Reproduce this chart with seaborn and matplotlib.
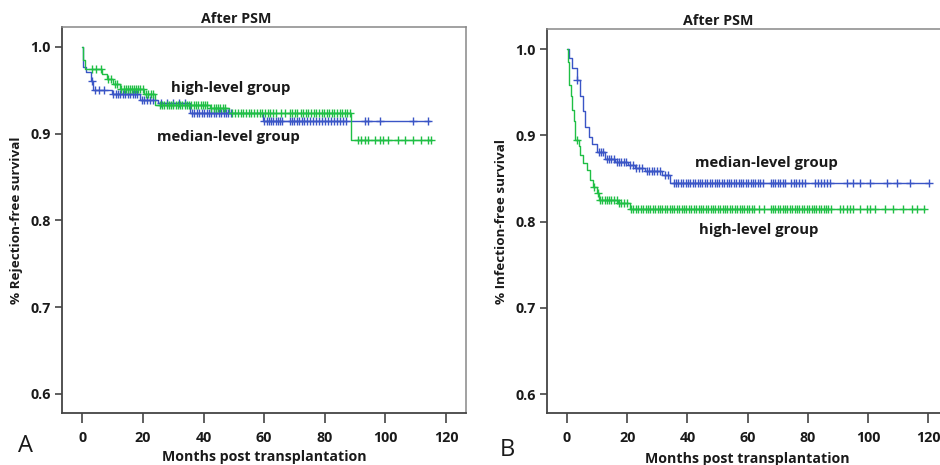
import numpy as np
import pandas as pd
import matplotlib
matplotlib.use("Agg")
import matplotlib.pyplot as plt
import seaborn as sns

sns.set_theme(style="white")
plt.rcParams["font.family"] = ["Open Sans", "DejaVu Sans"]

BLUE = "#3a55c6"
GREEN = "#1fbf45"

# ---------------- Panel A: rejection-free survival ----------------
a_high_times = [0, 0.3, 0.8, 6.5, 8.0, 10.0, 12.5, 20.5, 24.0, 42.0, 48.5, 88.5]
a_high_surv = [1.0, 0.985, 0.974, 0.968, 0.963, 0.957, 0.951, 0.946, 0.933, 0.929, 0.924, 0.892]
a_high_end = 115.2
a_high_cens = [3.1, 4.5, 6.2, 8.4, 9.5, 10.8, 11.5, 12.9, 13.6, 14.3, 15.0, 15.7, 16.4, 17.1,
               17.8, 18.5, 19.2, 19.9, 21.0, 21.8, 22.6, 23.3,
               25.5, 26.3, 27.0, 27.8, 28.5, 29.3, 30.0, 30.8, 31.5, 32.3, 33.0, 33.8, 34.5,
               35.3, 36.0, 36.8, 37.5, 38.3, 39.0, 39.8, 40.5, 41.3, 42.5, 43.3, 44.0, 44.8,
               45.5, 46.3, 47.0,
               49.5, 50.5, 51.3, 52.2, 53.0, 54.0, 55.0, 55.8, 56.7, 57.5, 58.5, 59.4, 60.3,
               61.2, 62.0, 63.0, 64.0, 65.5, 67.0,
               68.5, 69.3, 70.2, 71.0, 72.0, 72.8, 73.7, 74.5, 75.4, 76.3, 77.2, 78.0, 79.0,
               79.8, 80.6, 81.5, 82.4, 83.2, 84.0, 85.0, 85.8, 86.6, 87.5, 88.2,
               91.0, 92.1, 93.2, 94.3, 96.5, 98.2, 99.3, 100.9, 104.2, 106.4, 109.1, 111.9,
               114.1, 115.2]

a_med_times = [0, 0.3, 1.3, 3.0, 3.6, 9.7, 19.0, 25.0, 35.5, 59.5]
a_med_surv = [1.0, 0.977, 0.971, 0.960, 0.950, 0.945, 0.939, 0.935, 0.924, 0.914]
a_med_end = 114.7
a_med_cens = [3.2, 4.3, 5.5, 7.0, 10.2, 11.0, 11.8, 12.6, 13.4, 14.2, 15.0, 15.8, 16.6,
              17.4, 18.2, 19.6, 20.4, 21.2, 22.2, 23.2,
              26.0, 28.0, 30.0, 32.0, 34.0,
              36.2, 37.0, 37.8, 38.6, 39.4, 40.2, 41.0, 41.8, 42.6, 43.4, 44.2, 45.0, 45.8,
              46.6, 47.4, 48.2, 49.0,
              60.0, 60.8, 61.5, 62.3, 63.0, 63.8, 64.5, 65.3, 66.0,
              68.5, 69.3, 70.0, 70.8, 71.6, 72.4, 73.2, 74.0, 75.0, 76.0, 77.0, 78.0, 79.0,
              80.0, 81.0, 82.0, 83.0, 84.0, 85.0, 86.0, 87.0,
              93.3, 94.4, 98.2, 109.2, 114.2]

# ---------------- Panel B: infection-free survival ----------------
b_med_times = [0, 0.6, 1.7, 3.3, 4.4, 5.5, 6.1, 7.2, 8.3, 9.9, 12.7, 16.0, 20.4, 22.6,
               26.0, 31.5, 34.3]
b_med_surv = [1.0, 0.989, 0.978, 0.964, 0.945, 0.928, 0.910, 0.898, 0.890, 0.881, 0.873,
              0.869, 0.866, 0.862, 0.858, 0.854, 0.845]
b_med_end = 120.3
b_med_cens = [3.3, 10.5, 11.2, 12.0, 13.3, 14.0, 14.8, 15.5, 16.5, 17.3, 18.0, 18.8, 19.5,
              21.0, 21.8, 23.0, 24.0, 25.0, 26.6, 27.4, 28.2, 29.0, 30.0, 31.0, 32.5, 33.5,
              35.5, 36.3, 37.0, 37.8, 38.6, 39.4, 40.2, 41.0, 41.8, 42.6, 43.4, 44.2, 45.0,
              45.8, 46.6, 47.4, 48.2, 49.0, 49.8, 50.6, 51.4, 52.2, 53.0, 53.8, 54.6, 55.4,
              56.2, 57.0, 57.8, 58.6, 59.4, 60.2, 61.0, 61.8, 62.6, 63.4, 64.2, 65.0,
              67.6, 68.4, 69.2, 70.0, 70.8, 71.6, 72.4, 74.5, 75.3, 76.2, 77.0, 78.0, 79.0,
              82.5, 83.5, 84.3, 85.2, 86.2, 87.4,
              92.9, 95.1, 97.3, 100.7, 106.2, 109.5, 113.9, 120.3]

b_high_times = [0, 0.3, 0.6, 1.2, 1.7, 2.2, 2.8, 3.9, 4.4, 5.5, 6.6, 7.7, 8.8, 9.9, 10.5,
                17.1, 21.0]
b_high_surv = [1.0, 0.985, 0.958, 0.945, 0.929, 0.916, 0.894, 0.887, 0.877, 0.868, 0.860,
               0.848, 0.840, 0.833, 0.825, 0.821, 0.814]
b_high_end = 118.9
b_high_cens = [3.3, 9.0, 10.3, 11.0, 11.8, 12.5, 13.3, 14.0, 14.8, 15.5, 16.5, 17.3, 18.0,
               19.0, 20.0,
               21.3, 22.1, 22.9, 23.7, 24.5, 25.3, 26.1, 26.9, 27.7, 28.5, 29.3, 30.1, 30.9,
               31.7, 32.5, 33.3, 34.1, 34.9, 35.7, 36.5, 37.3, 38.1, 38.9, 39.7, 40.5, 41.3,
               42.1, 42.9, 43.7, 44.5, 45.3, 46.1, 46.9, 47.7, 48.5, 49.3, 50.1, 50.9, 51.7,
               52.5, 53.3, 54.1, 54.9, 55.7, 56.5, 57.3, 58.1, 58.9, 59.7, 60.5, 61.3, 62.1,
               63.9, 65.4,
               67.6, 68.4, 69.2, 70.0, 70.8, 71.6, 72.4, 73.2, 74.0, 74.8, 75.6, 76.4, 77.2,
               78.0, 78.8, 79.6, 80.4, 81.2, 82.0, 82.8, 83.6, 84.4, 85.2, 86.0, 86.8, 87.6,
               90.7, 91.8, 92.9, 94.0, 95.1, 97.3, 99.6, 100.7, 102.3, 105.6, 108.4, 111.7,
               114.5, 116.1, 118.4]

x_ticks = [0, 20, 40, 60, 80, 100, 120]
y_ticks = [0.6, 0.7, 0.8, 0.9, 1.0]
y_ticklabels = ["0.6", "0.7", "0.8", "0.9", "1.0"]


def draw_km(ax, times, surv, end, cens, color):
    t = list(times) + [end]
    s = list(surv) + [surv[-1]]
    df = pd.DataFrame({"time": t, "surv": s})
    sns.lineplot(data=df, x="time", y="surv", drawstyle="steps-post", color=color,
                 linewidth=1.0, estimator=None, sort=False, ax=ax)
    idx = np.searchsorted(np.asarray(times), np.asarray(cens), side="right") - 1
    cy = np.asarray(surv)[idx]
    sns.scatterplot(x=cens, y=cy, marker="+", s=36, linewidth=1.0, color=color, ax=ax,
                    zorder=3)


fig = plt.figure(figsize=(9.4, 4.65), dpi=100)
axA = fig.add_axes([62 / 940, 1 - 413 / 465, 404 / 940, 386 / 465])
axB = fig.add_axes([546.7 / 940, 1 - 413 / 465, 401.6 / 940, 384 / 465])

draw_km(axA, a_med_times, a_med_surv, a_med_end, a_med_cens, BLUE)
draw_km(axA, a_high_times, a_high_surv, a_high_end, a_high_cens, GREEN)
draw_km(axB, b_med_times, b_med_surv, b_med_end, b_med_cens, BLUE)
draw_km(axB, b_high_times, b_high_surv, b_high_end, b_high_cens, GREEN)

axA.set_xlim(-6.7, 126.6)
axA.set_ylim(0.5781, 1.0227)
axB.set_xlim(-6.7, 126.6)
axB.set_ylim(0.578, 1.0232)

for ax, ylab, tx in [(axA, "% Rejection-free survival", 0.431),
                     (axB, "% Infection-free survival", 0.427)]:
    ax.set_xticks(x_ticks)
    ax.set_xticklabels([str(v) for v in x_ticks], fontsize=10.3, fontweight="bold")
    ax.set_yticks(y_ticks)
    ax.set_yticklabels(y_ticklabels, fontsize=10.3, fontweight="bold")
    ax.tick_params(axis="both", which="both", bottom=True, left=True, direction="out",
                   length=5, width=1.2, color="#444444", pad=3, labelcolor="#1a1a1a")
    ax.tick_params(axis="x", length=7, pad=6)
    ax.set_xlabel("")
    ax.set_ylabel(ylab, fontsize=9.7, fontweight="bold", color="#1a1a1a", labelpad=5)
    ax.set_title("After PSM", fontsize=10.3, fontweight="bold", color="#1a1a1a", pad=3,
                 x=tx)
    for side in ["left", "bottom"]:
        ax.spines[side].set_color("#444444")
        ax.spines[side].set_linewidth(1.3)
    for side in ["top", "right"]:
        ax.spines[side].set_color("#888888")
        ax.spines[side].set_linewidth(1.1)

axA.text(49.1, 0.9524, "high-level group", fontsize=10.7, fontweight="bold",
         ha="center", va="center", color="#1a1a1a")
axA.text(48.1, 0.896, "median-level group", fontsize=10.7, fontweight="bold",
         ha="center", va="center", color="#1a1a1a")
axB.text(66.1, 0.868, "median-level group", fontsize=10.7, fontweight="bold",
         ha="center", va="center", color="#1a1a1a")
axB.text(63.5, 0.790, "high-level group", fontsize=10.7, fontweight="bold",
         ha="center", va="center", color="#1a1a1a")

fig.text(264 / 940, 1 - 457 / 465, "Months post transplantation", fontsize=10.2,
         fontweight="bold", ha="center", va="center", color="#1a1a1a")
fig.text(747.5 / 940, 1 - 459 / 465, "Months post transplantation", fontsize=10.2,
         fontweight="bold", ha="center", va="center", color="#1a1a1a")
fig.text(25 / 940, 1 - 446 / 465, "A", fontsize=17, ha="center", va="center",
         color="#1a1a1a")
fig.text(507 / 940, 1 - 450 / 465, "B", fontsize=17, ha="center", va="center",
         color="#1a1a1a")

fig.savefig("out.png", dpi=100)
